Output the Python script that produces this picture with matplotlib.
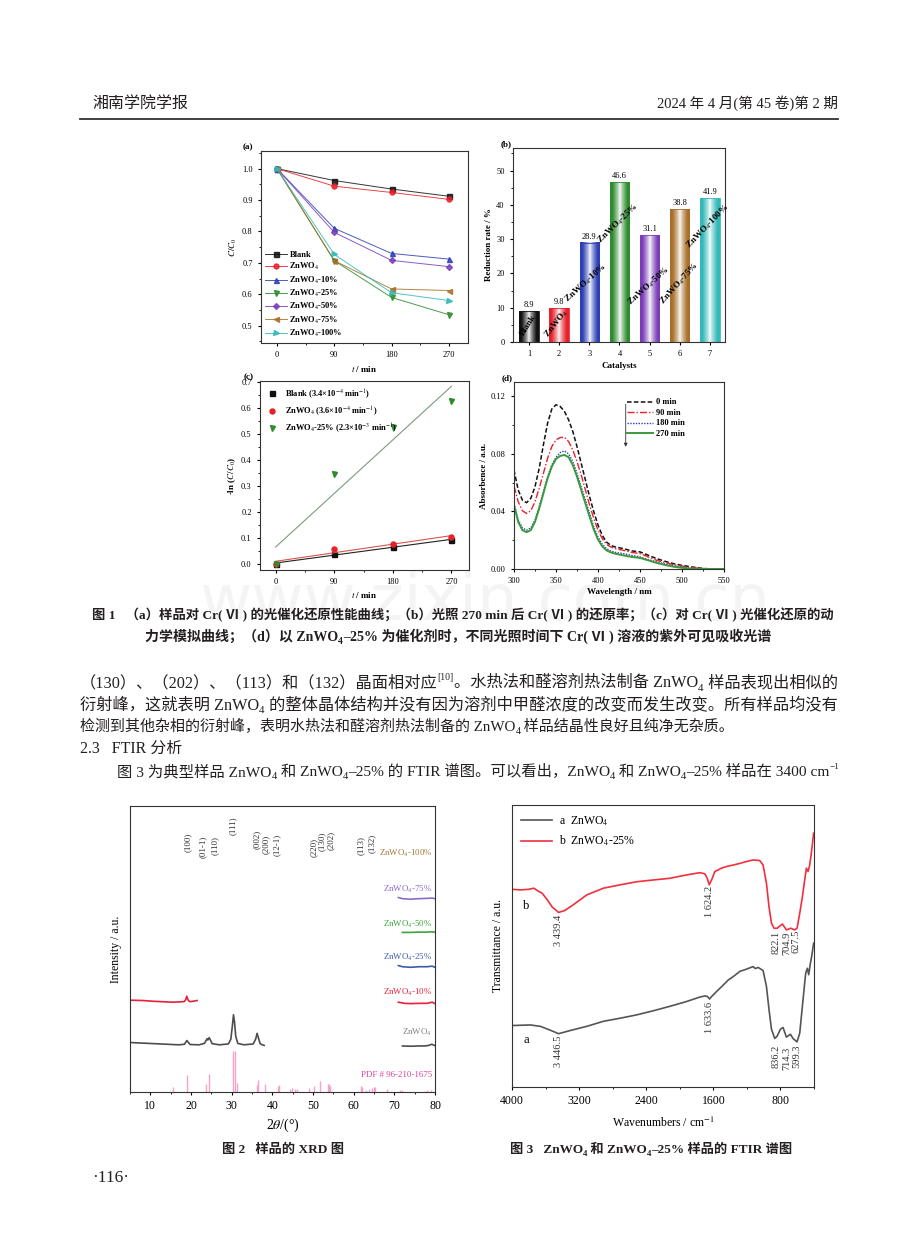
import numpy as np
import matplotlib
matplotlib.use('Agg')
import matplotlib.pyplot as plt
from matplotlib.ticker import MultipleLocator
from matplotlib.colors import to_rgb

plt.rcParams['font.family'] = ['Liberation Serif', 'Noto Sans CJK SC', 'DejaVu Sans']
plt.rcParams['mathtext.fontset'] = 'stix'
plt.rcParams['axes.linewidth'] = 0.8
plt.rcParams['axes.edgecolor'] = '#333333'
plt.rcParams['xtick.major.size'] = 2.5
plt.rcParams['ytick.major.size'] = 2.5
plt.rcParams['xtick.minor.size'] = 1.5
plt.rcParams['ytick.minor.size'] = 1.5

W, H, DPI = 920, 1249, 100
TXT = '#231f20'

# ---- fig 1 data ----
t_min = [0, 90, 180, 270]
cc_blank = [1.0, 0.962, 0.935, 0.912]
cc_zn = [1.0, 0.944, 0.924, 0.902]
cc_10 = [1.0, 0.810, 0.730, 0.712]
cc_25 = [1.0, 0.707, 0.590, 0.535]
cc_50 = [1.0, 0.797, 0.708, 0.688]
cc_75 = [1.0, 0.707, 0.617, 0.612]
cc_100 = [1.0, 0.727, 0.605, 0.580]
sample_names = ['Blank', 'ZnWO$_4$', 'ZnWO$_4$-10%', 'ZnWO$_4$-25%', 'ZnWO$_4$-50%', 'ZnWO$_4$-75%', 'ZnWO$_4$-100%']

bar_x = [1, 2, 3, 4, 5, 6, 7]
rates = [8.9, 9.8, 28.9, 46.6, 31.1, 38.8, 41.9]

ln_blank = [0.0, 0.039, 0.067, 0.092]
ln_zn = [0.0, 0.058, 0.079, 0.103]
ln_25 = [0.0, 0.345, 0.528, 0.627]
k_labels = ['Blank (3.4×10$^{-4}$ min$^{-1}$)', 'ZnWO$_4$ (3.6×10$^{-4}$ min$^{-1}$)',
            'ZnWO$_4$-25% (2.3×10$^{-3}$ min$^{-1}$)']

wl = [300, 305, 310, 315, 320, 325, 330, 335, 340, 345, 350, 355, 360, 365, 370, 375, 380, 385, 390,
      395, 400, 405, 410, 415, 420, 430, 440, 450, 460, 470, 480, 490, 500, 510, 520, 530, 540, 550]
abs_0 = [0.0689, 0.0549, 0.0479, 0.0461, 0.0491, 0.0572, 0.0700, 0.0863, 0.1014, 0.1112, 0.1142, 0.1130,
         0.1096, 0.1037, 0.0956, 0.0851, 0.0735, 0.0619, 0.0502, 0.0398, 0.0305, 0.0235, 0.0188, 0.0165,
         0.0154, 0.0142, 0.0126, 0.0119, 0.0095, 0.0072, 0.0053, 0.0037, 0.0025, 0.0016, 0.0007, 0.0002,
         0.0, 0.0]
abs_90 = [0.0577, 0.0468, 0.0405, 0.0386, 0.0405, 0.0468, 0.0561, 0.0665, 0.0770, 0.0851, 0.0898, 0.0914,
          0.0916, 0.0886, 0.0828, 0.0747, 0.0654, 0.0549, 0.0444, 0.0351, 0.0270, 0.0212, 0.0172, 0.0154,
          0.0142, 0.0130, 0.0116, 0.0107, 0.0084, 0.0060, 0.0045, 0.0030, 0.0020, 0.0012, 0.0005, 0.0001,
          0.0, 0.0]
abs_180 = [0.0456, 0.0340, 0.0286, 0.0270, 0.0286, 0.0340, 0.0433, 0.0537, 0.0642, 0.0723, 0.0777, 0.0809,
           0.0821, 0.0800, 0.0747, 0.0665, 0.0572, 0.0479, 0.0386, 0.0293, 0.0223, 0.0172, 0.0142, 0.0126,
           0.0116, 0.0107, 0.0095, 0.0084, 0.0065, 0.0049, 0.0035, 0.0022, 0.0012, 0.0005, 0.0001, 0.0,
           0.0, 0.0]
abs_270 = [0.0444, 0.0328, 0.0270, 0.0256, 0.0270, 0.0328, 0.0421, 0.0526, 0.0630, 0.0712, 0.0765, 0.0786,
           0.0793, 0.0777, 0.0723, 0.0642, 0.0549, 0.0456, 0.0363, 0.0274, 0.0205, 0.0158, 0.0130, 0.0116,
           0.0107, 0.0095, 0.0084, 0.0077, 0.0060, 0.0042, 0.0028, 0.0016, 0.0008, 0.0003, 0.0001, 0.0,
           0.0, 0.0]

# ---- fig 2 (XRD) data ----
tt_zn = [5, 8, 11, 14, 17, 18.4, 18.8, 19.0, 19.3, 19.8, 22, 23.3, 23.7, 23.95, 24.15, 24.45, 24.7, 25.2,
         27, 29.2, 29.8, 30.2, 30.45, 30.7, 31.0, 31.5, 33, 35.3, 35.9, 36.25, 36.6, 37.0, 37.5, 38.0]
int_zn = [17.3, 17.1, 16.9, 16.7, 16.5, 16.7, 17.6, 18.0, 17.4, 16.6, 16.5, 17.0, 18.0, 18.6, 18.2, 19.0,
          18.4, 16.9, 16.5, 16.8, 18.5, 23.5, 27.0, 24.5, 19.5, 17.0, 16.5, 16.8, 18.5, 20.5, 18.8, 16.9,
          16.5, 16.3]
tt_zn_r = [72, 74, 76, 77.5, 78.5, 79.2, 80]
int_zn_r = [16.1, 16.0, 16.1, 16.1, 16.3, 16.7, 16.2]
tt_10 = [5, 8, 11, 14, 15.5, 17, 18.3, 18.7, 18.95, 19.3, 19.7, 20.5, 21.5]
int_10 = [32.1, 32.0, 31.7, 31.5, 31.4, 31.5, 31.6, 32.3, 33.5, 32.1, 31.6, 31.7, 32.0]
tt_10_r = [71, 72.5, 74, 76, 78, 79.3, 80]
int_10_r = [31.4, 31.0, 30.9, 31.0, 31.0, 31.4, 30.9]
tt_25_r = [71, 72, 74, 76, 78, 79.3, 80]
int_25_r = [44.2, 43.8, 43.6, 43.8, 43.8, 44.0, 43.6]
tt_50_r = [72, 74, 76, 78, 79.3, 80]
int_50_r = [55.8, 55.8, 55.9, 55.9, 56.0, 55.9]
tt_75_r = [71, 72, 74, 76, 78, 79.3, 80]
int_75_r = [68.0, 67.6, 67.4, 67.6, 67.7, 67.8, 67.6]
pdf_pos = [15.5, 19.0, 23.7, 24.4, 30.45, 30.75, 31.3, 36.3, 36.5, 38.2, 41.3, 41.6, 44.3, 44.8, 45.5, 46.0,
           48.9, 50.3, 51.8, 53.6, 54.0, 54.3, 61.7, 62.1, 63.1, 63.8, 64.5, 64.9, 65.3, 68.1, 71.5, 72.0,
           77.3, 78.0, 79.1]
pdf_h = [1.7, 5.8, 2.9, 6.2, 14.4, 14.4, 3.3, 2.3, 4.1, 2.7, 2.1, 2.3, 1.2, 1.3, 1.0, 0.9, 1.4, 2.1, 3.7,
         2.7, 2.9, 2.2, 2.2, 1.7, 0.8, 1.0, 1.5, 1.7, 1.7, 0.9, 0.6, 0.7, 0.5, 0.6, 0.7]
hkl = ['(100)', '(01-1)', '(110)', '(111)', '(002)', '(200)', '(12-1)', '(220)', '(130)', '(202)', '(113)', '(132)']
hkl_x = [19.3, 23.0, 25.9, 30.2, 36.1, 38.4, 41.2, 50.1, 52.1, 54.3, 61.7, 64.4]
xrd_names = ['ZnWO$_4$-100%', 'ZnWO$_4$-75%', 'ZnWO$_4$-50%', 'ZnWO$_4$-25%', 'ZnWO$_4$-10%', 'ZnWO$_4$',
             'PDF # 96-210-1675']

# ---- fig 3 (FTIR) data ----
wn_a = [4000, 3780, 3660, 3540, 3445, 3310, 3110, 2910, 2710, 2510, 2320, 2120, 1920, 1760, 1700, 1670,
        1645, 1620, 1560, 1480, 1420, 1360, 1284, 1204, 1126, 1100, 1066, 1007, 967, 936, 907, 868, 840,
        800, 769, 729, 700, 681, 650, 602, 570, 531, 499, 479, 463, 443, 428, 404]
tr_a = [21.8, 22.0, 21.5, 20.1, 18.9, 20.0, 21.5, 23.3, 24.4, 25.6, 27.0, 28.6, 30.3, 31.9, 32.3, 32.1,
        31.2, 32.1, 33.9, 36.2, 38.0, 39.2, 41.0, 41.8, 42.7, 42.0, 42.4, 41.3, 35.7, 27.4, 20.5, 17.2,
        18.0, 20.5, 21.1, 17.7, 18.3, 18.7, 17.2, 16.0, 19.1, 30.9, 40.4, 42.1, 39.8, 43.9, 46.3, 51.0]
wn_b = [4000, 3900, 3800, 3740, 3700, 3640, 3580, 3520, 3445, 3370, 3270, 3110, 2910, 2710, 2510, 2320,
        2120, 1920, 1760, 1700, 1673, 1649, 1621, 1582, 1542, 1502, 1443, 1363, 1284, 1200, 1126, 1047,
        1007, 967, 936, 907, 876, 840, 777, 729, 677, 630, 602, 570, 538, 511, 491, 471, 451, 432, 404]
tr_b = [70.1, 69.9, 70.1, 70.5, 69.7, 68.7, 66.4, 63.8, 61.9, 62.6, 64.6, 68.1, 70.5, 71.7, 72.8, 73.4,
        74.0, 75.2, 76.0, 75.6, 74.0, 71.7, 73.4, 76.4, 77.0, 77.6, 78.2, 78.7, 79.3, 80.0, 80.5, 80.3,
        78.7, 72.3, 63.8, 58.1, 56.3, 56.3, 57.8, 55.7, 56.3, 55.7, 56.3, 61.6, 67.5, 73.4, 77.6, 76.4,
        78.7, 82.9, 90.0]
peak_b = ['3 439.4', '1 624.2', '822.1', '704.9', '627.5']
peak_b_x = [3446, 1649, 848, 729, 610]
peak_a = ['3 446.5', '1 633.6', '836.2', '714.3', '599.3']
peak_a_x = [3446, 1649, 852, 729, 602]

fig = plt.figure(figsize=(W / DPI, H / DPI), dpi=DPI)
rend = fig.canvas.get_renderer()


def box(l, t, r, b):
    return [l / W, 1 - b / H, (r - l) / W, (b - t) / H]


def write(x, y, runs, size, width=None, ha='left', weight='normal', color=TXT):
    runs = [(r, 1, 0) if isinstance(r, str) else r for r in runs]

    def put(x0, sz):
        arts, cx = [], x0
        for s, k, rise in runs:
            t = fig.text(cx / W, 1 - (y - rise * sz * DPI / 72) / H, s, fontsize=sz * k,
                         weight=weight, color=color, va='baseline', ha='left')
            cx += t.get_window_extent(rend).width
            arts.append(t)
        return arts, cx - x0

    arts, w = put(x, size)
    if width or ha != 'left':
        for a in arts:
            a.remove()
        if width:
            size = size * width / w
            w = width
        put(x - w / 2 if ha == 'center' else x, size)


SUB = ('4', 0.68, -0.22)

# header
write(92, 108, ['湘南学院学报'], 11.5)
fig.text(838 / W, 1 - 108 / H, '2024 年 4 月(第 45 卷)第 2 期', fontsize=10.5, ha='right', va='baseline', color=TXT)
fig.add_artist(plt.Line2D([80 / W, 838 / W], [1 - 119 / H, 1 - 119 / H], color='#333333', lw=1.3))

# faint site watermark
fig.text(485 / W, 1 - 602 / H, 'www.zixin.com.cn', fontsize=46, color='#f4f4f4', ha='center', va='center',
         family='DejaVu Sans', zorder=-1)

FS = 6
LW_B = dict(size=6.5, weight='bold')
colors7 = ['#111111', '#e8202a', '#2b3fb5', '#2e8b2e', '#7a3db8', '#a86f28', '#34b8b8']
markers7 = ['s', 'o', '^', 'v', 'D', '<', '>']

# ---- (a) ----
ax = fig.add_axes(box(261, 151, 468, 343))
ax.set_facecolor('none')
for vals, name, c, m in zip([cc_blank, cc_zn, cc_10, cc_25, cc_50, cc_75, cc_100], sample_names, colors7, markers7):
    ax.plot(t_min, vals, color=c, alpha=0.85, lw=0.7, marker=m, ms=3.6 if m != 'D' else 3, mfc=c, mec=c, label=name)
ax.set_xlim(-25, 300)
ax.set_ylim(0.445, 1.056)
ax.set_xticks(t_min)
ax.xaxis.set_minor_locator(MultipleLocator(45))
ax.yaxis.set_major_locator(MultipleLocator(0.1))
ax.yaxis.set_minor_locator(MultipleLocator(0.05))
ax.tick_params(labelsize=FS, which='both')
ax.set_xlabel('$t$ / min', fontdict=LW_B, labelpad=3)
ax.set_ylabel('$C$/$C_0$', fontdict=LW_B, labelpad=2)
ax.legend(loc='lower left', frameon=False, prop=dict(size=FS, weight='bold'), handlelength=2.6,
          labelspacing=0.25, borderaxespad=0.1, handletextpad=0.3)
ax.text(-0.09, 1.0, '(a)', transform=ax.transAxes, fontsize=6.5, weight='bold', va='bottom')

# ---- (b) ----
ax = fig.add_axes(box(513, 148, 725, 342))
ax.set_facecolor('none')
bw = 0.64
u = np.linspace(-1, 1, 80)
alpha = np.clip(np.abs(u) * 1.3, 0, 1) ** 0.75
for x, v, c in zip(bar_x, rates, colors7):
    rgb = np.array(to_rgb(c))
    img = (rgb[None, :] * alpha[:, None] + (1 - alpha[:, None]))[None, :, :]
    ax.imshow(img, extent=(x - bw / 2, x + bw / 2, 0, v), aspect='auto', interpolation='bilinear', zorder=2)
    ax.bar(x, v, bw, fill=False, edgecolor=c, lw=0.6, zorder=3)
    ax.text(x, v + 0.6, f'{v:.1f}', ha='center', va='bottom', fontsize=FS)
name_pos = [(0.97, 4.9, 58), (1.92, 5.2, 52), (2.88, 17.3, 42), (3.96, 34.4, 44),
            (4.99, 16.4, 42), (6.0, 16.9, 48), (6.92, 33.7, 46)]
for name, (px, py, rot) in zip(sample_names, name_pos):
    ax.text(px, py, name, rotation=rot, ha='center', va='center', fontsize=6.5, weight='bold',
            rotation_mode='anchor', zorder=4)
ax.set_xlim(0.47, 7.5)
ax.set_ylim(0, 56.6)
ax.set_xticks(bar_x)
ax.yaxis.set_major_locator(MultipleLocator(10))
ax.yaxis.set_minor_locator(MultipleLocator(5))
ax.tick_params(labelsize=FS, which='both')
ax.set_xlabel('Catalysts', fontdict=LW_B, labelpad=3)
ax.set_ylabel('Reduction rate / %', fontdict=LW_B, labelpad=2)
ax.text(-0.06, 1.0, '(b)', transform=ax.transAxes, fontsize=6.5, weight='bold', va='bottom')

# ---- (c) ----
ax = fig.add_axes(box(260, 381, 469, 570))
ax.set_facecolor('none')
for vals, name, c, m, lc in zip([ln_blank, ln_zn, ln_25], k_labels, ['#111111', '#e8202a', '#2e8b2e'],
                                ['s', 'o', 'v'], ['#222222', '#d9534f', '#7d9a7d']):
    k, b = np.polyfit(t_min, vals, 1)
    ax.plot([t_min[0], t_min[-1]], [b, b + k * t_min[-1]], color=lc, lw=0.8)
    ax.plot(t_min, vals, ls='none', marker=m, ms=3.6, color=c, label=name)
ax.set_xlim(-24, 297)
ax.set_ylim(-0.023, 0.705)
ax.set_xticks(t_min)
ax.xaxis.set_minor_locator(MultipleLocator(45))
ax.yaxis.set_major_locator(MultipleLocator(0.1))
ax.yaxis.set_minor_locator(MultipleLocator(0.05))
ax.tick_params(labelsize=FS, which='both')
ax.set_xlabel('$t$ / min', fontdict=LW_B, labelpad=3)
ax.set_ylabel('-ln ($C$/$C_0$)', fontdict=LW_B, labelpad=2)
ax.legend(loc='upper left', frameon=False, prop=dict(size=FS, weight='bold'), handlelength=1.5,
          labelspacing=0.45, borderaxespad=0.3, handletextpad=0.8)
ax.text(-0.08, 1.0, '(c)', transform=ax.transAxes, fontsize=6.5, weight='bold', va='bottom')

# ---- (d) ----
ax = fig.add_axes(box(514, 382, 724, 569))
ax.set_facecolor('none')
ax.plot(wl, abs_0, color='#111111', ls=(0, (3, 1.5)), lw=1.1, label='0 min')
ax.plot(wl, abs_90, color='#e8202a', ls=(0, (5, 1.5, 1, 1.5)), lw=1.0, label='90 min')
ax.plot(wl, abs_180, color='#2b3fb5', ls=(0, (1, 1)), lw=1.0, label='180 min')
ax.plot(wl, abs_270, color='#3a9a3a', ls='-', lw=1.4, label='270 min')
ax.annotate('', xy=(433, 0.083), xytext=(433, 0.1165),
            arrowprops=dict(arrowstyle='-|>', color='#333333', lw=0.6, mutation_scale=5))
ax.legend(loc='upper left', bbox_to_anchor=(0.52, 0.93), frameon=False, prop=dict(size=FS, weight='bold'),
          handlelength=3.2, labelspacing=0.3, borderaxespad=0, handletextpad=0.3)
ax.set_xlim(300, 550)
ax.set_ylim(0, 0.13)
ax.xaxis.set_major_locator(MultipleLocator(50))
ax.xaxis.set_minor_locator(MultipleLocator(25))
ax.yaxis.set_major_locator(MultipleLocator(0.04))
ax.yaxis.set_minor_locator(MultipleLocator(0.02))
ax.yaxis.set_major_formatter(matplotlib.ticker.FormatStrFormatter('%.2f'))
ax.tick_params(labelsize=FS, which='both')
ax.set_xlabel('Wavelength / nm', fontdict=LW_B, labelpad=2)
ax.set_ylabel('Absorbence / a.u.', fontdict=LW_B, labelpad=2)
ax.text(-0.06, 1.0, '(d)', transform=ax.transAxes, fontsize=6.5, weight='bold', va='bottom')

# caption fig 1
write(92, 619, ['图 1   （a）样品对 Cr( Ⅵ ) 的光催化还原性能曲线；（b）光照 270 min 后 Cr( Ⅵ ) 的还原率；（c）对 Cr( Ⅵ ) 光催化还原的动'],
      9.5, width=746, weight='bold')
write(145, 641, ['力学模拟曲线；（d）以 ZnWO', SUB, '–25% 为催化剂时，不同光照时间下 Cr( Ⅵ ) 溶液的紫外可见吸收光谱'],
      9.5, width=630, weight='bold')

# body text
write(80, 687, ['（130）、（202）、（113）和（132）晶面相对应', ('[10]', 0.6, 0.45),
                '。水热法和醛溶剂热法制备 ZnWO', SUB, ' 样品表现出相似的'], 11.5, width=758)
write(80, 709, ['衍射峰，这就表明 ZnWO', SUB, ' 的整体晶体结构并没有因为溶剂中甲醛浓度的改变而发生改变。所有样品均没有'],
      11.5, width=758)
write(80, 731, ['检测到其他杂相的衍射峰，表明水热法和醛溶剂热法制备的 ZnWO', SUB, ' 样品结晶性良好且纯净无杂质。'],
      11.5, width=655)
write(80, 753, ['2.3   FTIR 分析'], 11.5)
write(117, 776, ['图 3 为典型样品 ZnWO', SUB, ' 和 ZnWO', SUB, '–25% 的 FTIR 谱图。可以看出，ZnWO', SUB,
                 ' 和 ZnWO', SUB, '–25% 样品在 3400 cm', ('−1', 0.6, 0.45)], 11.5, width=721)

# ---- fig 2: XRD ----
ax = fig.add_axes(box(130, 806, 435, 1092))
ax.set_facecolor('none')
ax.vlines(pdf_pos, 0, pdf_h, color='#f5a3cc', lw=1.0)
ax.plot(tt_zn, int_zn, color='#4d4d4d', lw=1.2)
ax.plot(tt_zn_r, int_zn_r, color='#4d4d4d', lw=1.2)
ax.plot(tt_10, int_10, color='#e8203a', lw=1.2)
ax.plot(tt_10_r, int_10_r, color='#e8203a', lw=1.2)
ax.plot(tt_25_r, int_25_r, color='#3a5ab4', lw=1.2)
ax.plot(tt_50_r, int_50_r, color='#3aa53a', lw=1.2)
ax.plot(tt_75_r, int_75_r, color='#8a6cc8', lw=1.2)
name_y = [83.6, 70.8, 58.5, 46.9, 34.7, 20.8, 5.8]
name_c = ['#a0783c', '#8a6cc8', '#3aa53a', '#3a5ab4', '#e8203a', '#808080', '#e0409a']
for name, yy, c in zip(xrd_names, name_y, name_c):
    ax.text(79.3, yy, name, color=c, fontsize=6.4, ha='right', va='center')
hkl_top = [90.8, 89.5, 89.5, 96.3, 91.6, 90.1, 90.4, 89.0, 91.0, 91.4, 89.5, 90.4]
for lab, xx, yy in zip(hkl, hkl_x, hkl_top):
    ax.text(xx, yy, lab, rotation=90, ha='center', va='top', fontsize=6.5, color='#333333')
ax.set_xlim(5, 80)
ax.set_ylim(0, 100)
ax.set_yticks([])
ax.xaxis.set_major_locator(MultipleLocator(10))
ax.xaxis.set_minor_locator(MultipleLocator(5))
ax.tick_params(labelsize=8.5, which='both')
ax.set_xlabel('2$\\theta$/(°)', fontsize=10, labelpad=3)
ax.set_ylabel('Intensity / a.u.', fontsize=8.5, labelpad=6)
write(283, 1153, ['图 2   样品的 XRD 图'], 9.5, ha='center', weight='bold')

# ---- fig 3: FTIR ----
ax = fig.add_axes(box(512, 805, 814, 1087))
ax.set_facecolor('none')
ax.plot(wn_a, tr_a, color='#555555', lw=1.2, label='a  ZnWO$_4$')
ax.plot(wn_b, tr_b, color='#f0303c', lw=1.2, label='b  ZnWO$_4$-25%')
for lab, xx, yy in zip(peak_b, peak_b_x, [61.0, 71.4, 55.5, 55.1, 55.7]):
    ax.text(xx, yy, lab, rotation=90, ha='center', va='top', fontsize=7.5, color='#333333')
for lab, xx, yy in zip(peak_a, peak_a_x, [18.2, 30.3, 15.0, 14.4, 15.0]):
    ax.text(xx, yy, lab, rotation=90, ha='center', va='top', fontsize=7.5, color='#333333')
ax.text(3830, 16.8, 'a', fontsize=9, ha='center', va='center')
ax.text(3830, 64.2, 'b', fontsize=9, ha='center', va='center')
ax.legend(loc='upper left', frameon=False, fontsize=8.5, handlelength=2.6, labelspacing=0.5,
          borderaxespad=0.4, handletextpad=0.6)
ax.set_xlim(4000, 400)
ax.set_ylim(0, 100)
ax.set_yticks([])
ax.set_xticks([4000, 3200, 2400, 1600, 800])
ax.xaxis.set_minor_locator(MultipleLocator(400))
ax.tick_params(labelsize=8.5, which='both')
ax.set_xlabel('Wavenumbers / cm$^{-1}$', fontsize=8.5, labelpad=6)
ax.set_ylabel('Transmittance / a.u.', fontsize=8.5, labelpad=6)
write(651, 1153, ['图 3   ZnWO', SUB, ' 和 ZnWO', SUB, '–25% 样品的 FTIR 谱图'], 9.5, ha='center', weight='bold')

# page number
write(92, 1182, ['·116·'], 12.5)

fig.savefig('out.png', dpi=DPI)
